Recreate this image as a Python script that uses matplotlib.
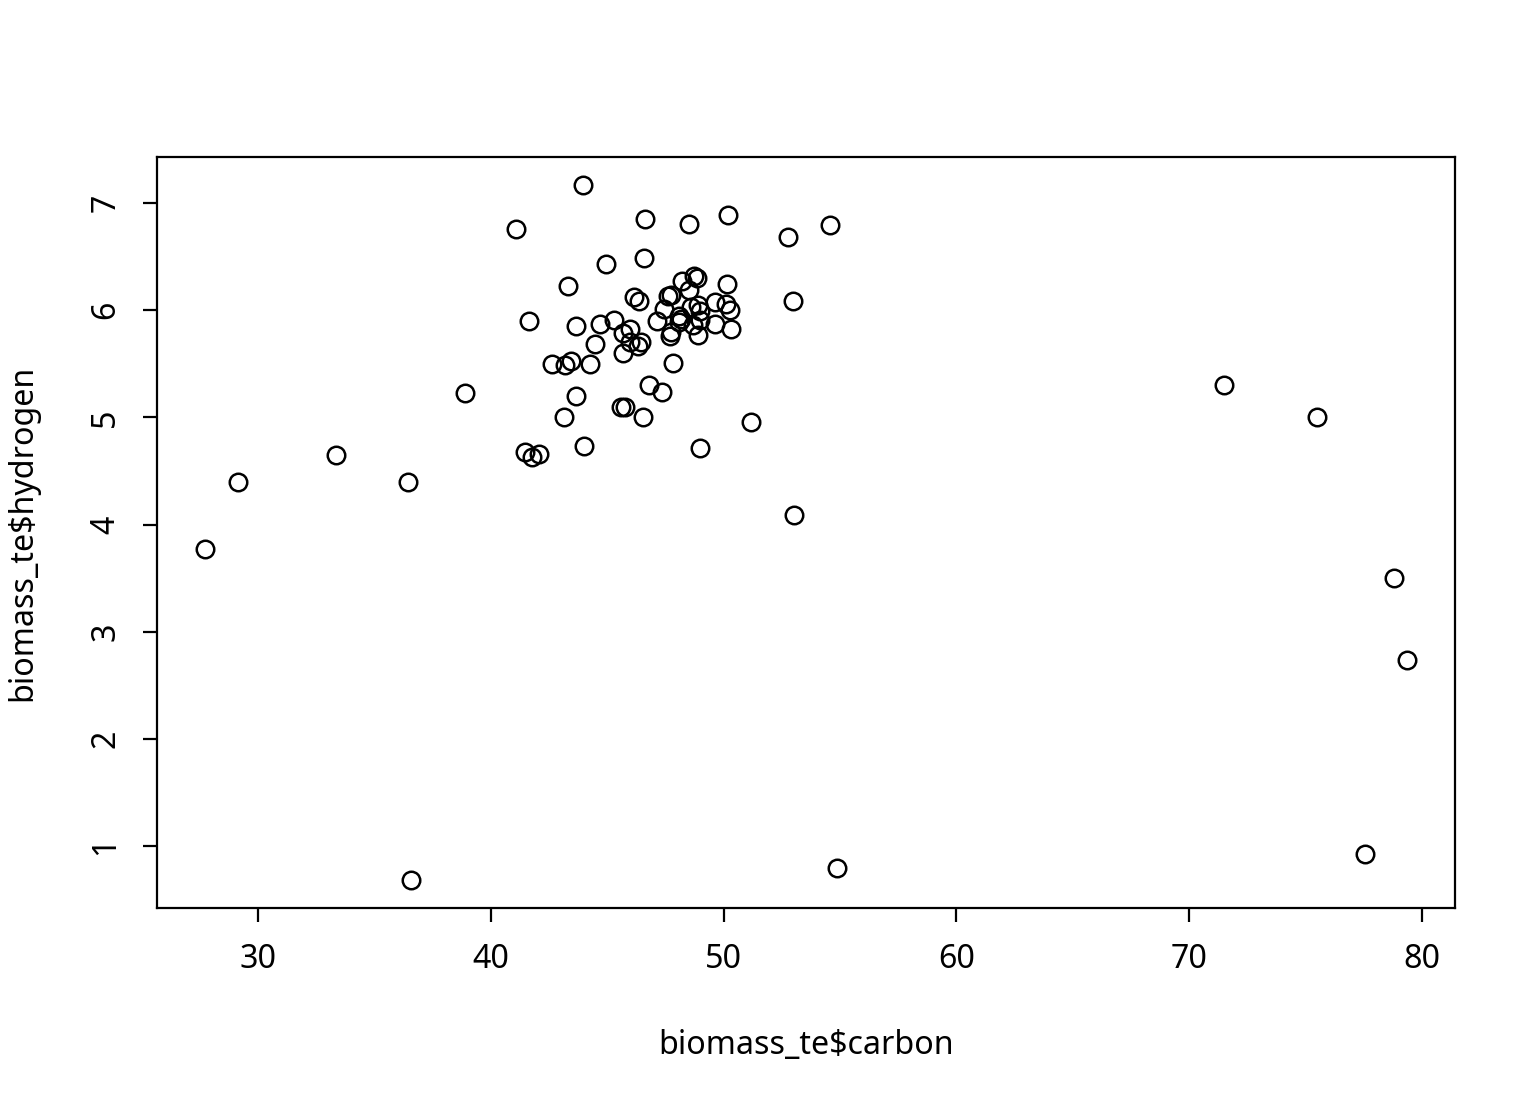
import matplotlib
matplotlib.use("Agg")
import matplotlib.pyplot as plt

plt.rcParams['font.family'] = ['Noto Sans', 'DejaVu Sans']

# biomass_te: carbon vs hydrogen
carbon = [27.72, 29.14, 33.35, 36.44, 38.89, 36.57, 41.08, 43.96, 41.64, 43.32,
          44.95, 46.62, 46.58, 48.51, 50.19, 52.77, 54.57, 52.98, 51.18, 53.02,
          54.87, 48.99, 71.49, 75.49, 78.80, 79.36, 77.55,
          43.67, 44.68, 45.29, 45.66, 46.00, 44.46, 45.66, 46.33, 46.45, 46.00,
          42.64, 43.19, 43.45, 44.26, 47.84, 43.66, 46.80, 47.37, 43.16, 45.58,
          45.77, 46.55, 44.02, 41.47, 41.75, 42.09, 47.12, 47.45, 47.70, 47.76,
          46.13, 46.37, 48.23, 48.74, 48.87, 48.52, 50.16, 47.59, 47.76, 48.09,
          48.19, 48.07, 48.62, 48.91, 48.99, 48.69, 48.99, 48.91, 49.63, 50.12,
          50.27, 49.63, 50.32]
hydrogen = [3.77, 4.40, 4.65, 4.40, 5.23, 0.68, 6.76, 7.17, 5.90, 6.23,
            6.43, 6.85, 6.49, 6.80, 6.89, 6.68, 6.79, 6.09, 4.96, 4.09,
            0.80, 4.71, 5.30, 5.00, 3.50, 2.74, 0.93,
            5.85, 5.87, 5.91, 5.79, 5.82, 5.68, 5.60, 5.67, 5.70, 5.70,
            5.50, 5.49, 5.53, 5.50, 5.51, 5.20, 5.30, 5.24, 5.00, 5.10,
            5.10, 5.00, 4.73, 4.68, 4.63, 4.66, 5.90, 6.01, 5.76, 5.80,
            6.12, 6.09, 6.27, 6.32, 6.30, 6.19, 6.24, 6.13, 6.14, 5.95,
            5.92, 5.89, 6.03, 6.05, 5.99, 5.86, 5.91, 5.77, 6.08, 6.06,
            6.00, 5.87, 5.82]

fig = plt.figure(figsize=(7.68, 5.52), dpi=200)
ax = fig.add_axes([0.1022, 0.1775, 0.8451, 0.6803])
ax.plot(carbon, hydrogen, 'o', mfc='none', mec='black', ms=6.3, mew=0.9)

ax.set_xlim(25.66, 81.42)
ax.set_ylim(0.422, 7.429)
ax.set_xticks([30, 40, 50, 60, 70, 80])
ax.set_yticks([1, 2, 3, 4, 5, 6, 7])
ax.tick_params(direction='out', length=5, width=0.8, labelsize=11.6, pad=7.5)
for lab in ax.get_yticklabels():
    lab.set_rotation(90)
    lab.set_va('center')
for s in ax.spines.values():
    s.set_linewidth(0.8)

ax.set_xlabel('biomass_te$carbon', fontsize=11.6, labelpad=19)
ax.set_ylabel('biomass_te$hydrogen', fontsize=11.6, labelpad=18)

fig.savefig('out.png', dpi=200)
